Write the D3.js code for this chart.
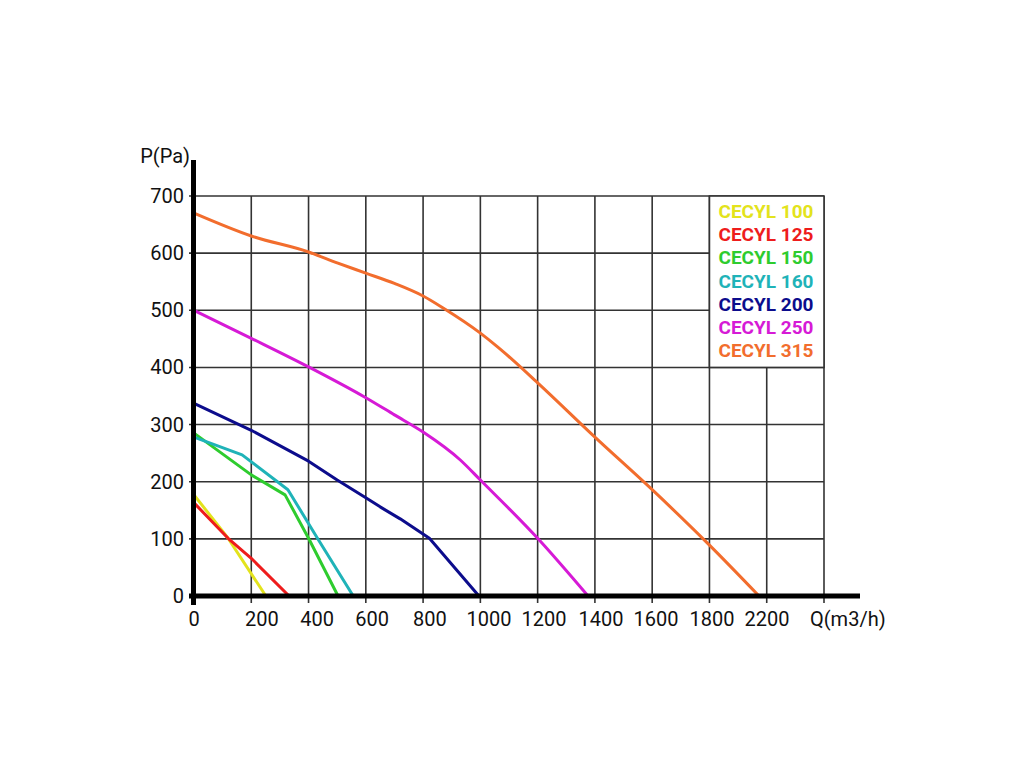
<!DOCTYPE html>
<html><head><meta charset="utf-8">
<script src="https://cdn.jsdelivr.net/npm/d3@7"></script>
<style>html,body{margin:0;padding:0;background:#fff;}svg{display:block;font-family:Roboto,"Noto Sans",sans-serif;}</style>
</head><body>
<svg id="chart" width="1024" height="768"></svg>
<script>
// ---- data ----
const seriesNames = ["CECYL 100","CECYL 125","CECYL 150","CECYL 160","CECYL 200","CECYL 250","CECYL 315"];
const seriesColors = ["#e3e31c","#ee1c1c","#2ecc2e","#1fb3b8","#0c0c8c","#d61ad6","#f26d2d"];
const q100 = [0,119,251];             const p100 = [177,101,0];
const q125 = [0,119,200,332];         const p125 = [163,101,66,0];
const q150 = [0,200,318,400,503];     const p150 = [285,212,177,101,0];
const q160 = [0,168,328,430,556];     const p160 = [278,247,186,102,0];
const q200 = [0,200,400,500,600,650,720,822,995]; const p200 = [337,290,236,203,172,156,135,101,0];
const q250 = [0,200,400,600,700,800,930,1000,1200,1376]; const p250 = [500,451,401,347,317,287,238,203,101,0];
const q315 = [0,200,400,500,600,700,800,870,1000,1060,1200,1400,1600,1800,1973];
const p315 = [670,630,602,583,565,547,525,504,460,436,373,278,186,89,0];
const seriesQ = [q100,q125,q150,q160,q200,q250,q315];
const seriesP = [p100,p125,p150,p160,p200,p250,p315];
const xGridValues = [0,200,400,600,800,1000,1200,1400,1600,1800,2000,2200];
const yGridValues = [100,200,300,400,500,600,700];
const yTickLabels = [0,100,200,300,400,500,600,700];
const xTickLabels = ["0","200","400","600","800","1000","1200","1400","1600","1800","2200"];
const xTickLabelAt = [0,237,430,622,824,1030,1222,1421,1613,1809,2001];
const xTitle = "Q(m3/h)", yTitle = "P(Pa)";

// ---- drawing ----
const svg = d3.select("#chart");
const x = d3.scaleLinear().domain([0,2200]).range([194,824]);
const y = d3.scaleLinear().domain([0,700]).range([596,196]);
const gridColor = "#333";

const grid = svg.append("g");
grid.selectAll("line.v").data(xGridValues).enter().append("line")
  .attr("x1",d=>x(d)).attr("x2",d=>x(d)).attr("y1",y(700)).attr("y2",y(0)+7)
  .attr("stroke",gridColor).attr("stroke-width",1.6);
grid.selectAll("line.h").data(yGridValues).enter().append("line")
  .attr("x1",x(0)-5).attr("x2",x(2200)).attr("y1",d=>y(d)).attr("y2",d=>y(d))
  .attr("stroke",gridColor).attr("stroke-width",1.6);

// curves
const curveG = svg.append("g");
seriesNames.forEach((name,i)=>{
  const pts = seriesQ[i].map((q,j)=>[q,seriesP[i][j]]);
  const smooth = (name==="CECYL 315"||name==="CECYL 250");
  const line = d3.line().x(d=>x(d[0])).y(d=>y(d[1]))
    .curve(smooth ? d3.curveMonotoneX : d3.curveLinear);
  curveG.append("path").datum(pts).attr("d",line)
    .attr("fill","none").attr("stroke",seriesColors[i]).attr("stroke-width",3)
    .attr("stroke-linejoin","round");
});

// legend box over grid
const lg = svg.append("g");
lg.append("rect").attr("x",x(1800)).attr("y",y(700)).attr("width",x(2200)-x(1800)).attr("height",y(400)-y(700))
  .attr("fill","#fff").attr("stroke",gridColor).attr("stroke-width",1.6);
seriesNames.forEach((name,i)=>{
  lg.append("text").attr("x",x(1800)+9).attr("y",y(700)+22+i*23.2)
    .attr("fill",seriesColors[i]).attr("font-size",19).attr("font-weight","bold").text(name);
});

// axes
svg.append("line").attr("x1",x(0)-0.5).attr("x2",x(0)-0.5).attr("y1",160).attr("y2",y(0)+9)
  .attr("stroke","#000").attr("stroke-width",5);
svg.append("line").attr("x1",x(0)-5).attr("x2",860).attr("y1",y(0)).attr("y2",y(0))
  .attr("stroke","#000").attr("stroke-width",5);

// y tick labels
svg.selectAll("text.yl").data(yTickLabels).enter().append("text")
  .attr("x",184).attr("y",d=>y(d)).attr("dy","0.35em").attr("text-anchor","end")
  .attr("font-size",20).attr("fill","#111").text(d=>d);
// x tick labels
svg.selectAll("text.xl").data(xTickLabels).enter().append("text")
  .attr("x",(d,i)=>x(xTickLabelAt[i])).attr("y",626).attr("text-anchor","middle")
  .attr("font-size",20).attr("fill","#111").text(d=>d);
svg.append("text").attr("x",810).attr("y",626).attr("font-size",20).attr("fill","#111").text(xTitle);
svg.append("text").attr("x",190).attr("y",163).attr("text-anchor","end").attr("font-size",20).attr("fill","#111").text(yTitle);
</script>
</body></html>
